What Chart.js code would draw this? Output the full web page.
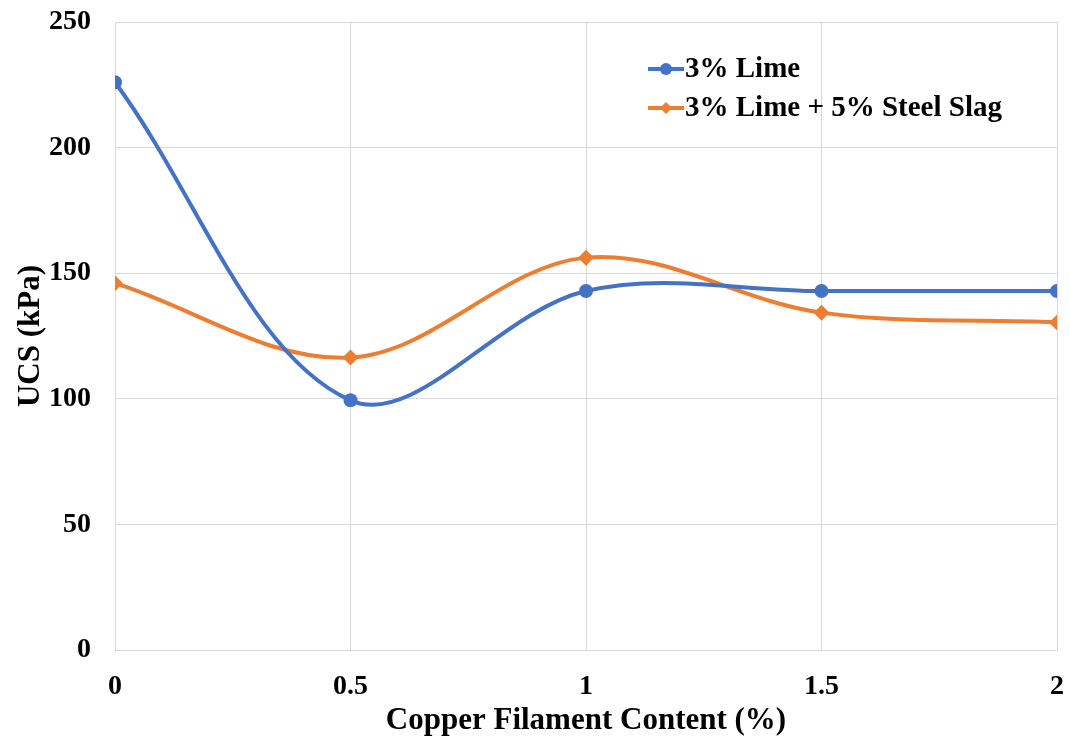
<!DOCTYPE html>
<html>
<head>
<meta charset="utf-8">
<script src="https://cdn.jsdelivr.net/npm/chart.js@4"></script>
<style>
  html, body { margin: 0; padding: 0; background: #fff; }
  #wrap { width: 1070px; height: 740px; }
</style>
</head>
<body>
<div id="wrap"><canvas id="ucs-chart" width="1070" height="740"></canvas></div>
<script>
var copperContent = [0, 0.5, 1, 1.5, 2];
var limeOnly = [226, 99.4, 142.9, 142.9, 142.9];
var limeSlag = [146, 116.4, 156.2, 134.3, 130.4];
var seriesNames = ["3% Lime", "3% Lime + 5% Steel Slag"];
var seriesColours = ["#4472C4", "#ED7D31"];
var seriesMarkers = ["circle", "rectRot"];

var fontFamily = "'Liberation Serif', 'Times New Roman', serif";

function toPoints(values) {
  return copperContent.map((x, i) => ({ x: x, y: values[i] }));
}

// legend drawn inside the plot, like the original
const insideLegend = {
  id: "insideLegend",
  afterDraw(chart) {
    const ctx = chart.ctx;
    ctx.save();
    chart.data.datasets.forEach((ds, i) => {
      const y = 69 + i * 39;
      ctx.strokeStyle = ds.borderColor;
      ctx.lineWidth = 4;
      ctx.beginPath();
      ctx.moveTo(648, y);
      ctx.lineTo(684, y);
      ctx.stroke();
      ctx.fillStyle = ds.borderColor;
      ctx.beginPath();
      if (ds.pointStyle === "circle") {
        ctx.arc(666, y, 6, 0, Math.PI * 2);
      } else {
        ctx.moveTo(666, y - 6); ctx.lineTo(672, y); ctx.lineTo(666, y + 6); ctx.lineTo(660, y);
        ctx.closePath();
      }
      ctx.fill();
      ctx.fillStyle = "#000";
      ctx.font = "bold 29px " + fontFamily;
      ctx.textBaseline = "middle";
      ctx.fillText(ds.label, 685, y + 1);
    });
    ctx.restore();
  }
};

// keep the plot box where the original has it
function noEdgePadding(scale) {
  scale.paddingTop = 0;
  scale.paddingBottom = 0;
  scale.paddingLeft = 0;
  scale.paddingRight = 0;
}

new Chart("ucs-chart", {
  type: "line",
  data: {
    datasets: [limeOnly, limeSlag].map((vals, i) => ({
      label: seriesNames[i],
      data: toPoints(vals),
      borderColor: seriesColours[i],
      backgroundColor: seriesColours[i],
      borderWidth: 4,
      pointStyle: seriesMarkers[i],
      pointRadius: i === 0 ? 7 : 8,
      pointBorderWidth: 0,
      tension: 0.35,
      fill: false
    }))
  },
  options: {
    responsive: false,
    animation: false,
    layout: { padding: { top: 22, right: 13, left: 0, bottom: 0 } },
    plugins: {
      legend: { display: false },
      tooltip: { enabled: false }
    },
    scales: {
      x: {
        type: "linear",
        min: 0,
        max: 2,
        ticks: {
          stepSize: 0.5,
          color: "#000",
          font: { family: fontFamily, size: 28, weight: "bold" },
          padding: 20,
          maxRotation: 0,
          callback: v => String(v)
        },
        grid: { color: "#d9d9d9", lineWidth: 1, drawTicks: false },
        border: { color: "#d9d9d9" },
        title: {
          display: true,
          text: "Copper Filament Content (%)",
          color: "#000",
          font: { family: fontFamily, size: 31, weight: "bold" },
          padding: { top: 4, bottom: 0 }
        },
        afterFit(scale) { scale.height = 90; noEdgePadding(scale); }
      },
      y: {
        min: 0,
        max: 250,
        ticks: {
          stepSize: 50,
          color: "#000",
          font: { family: fontFamily, size: 28, weight: "bold" },
          padding: 24
        },
        grid: { color: "#d9d9d9", lineWidth: 1, drawTicks: false },
        border: { color: "#d9d9d9" },
        title: {
          display: true,
          text: "UCS (kPa)",
          color: "#000",
          font: { family: fontFamily, size: 31, weight: "bold" },
          padding: { top: 12, bottom: 4 }
        },
        afterFit(scale) { scale.width = 115; noEdgePadding(scale); }
      }
    }
  },
  plugins: [insideLegend]
});
</script>
</body>
</html>
